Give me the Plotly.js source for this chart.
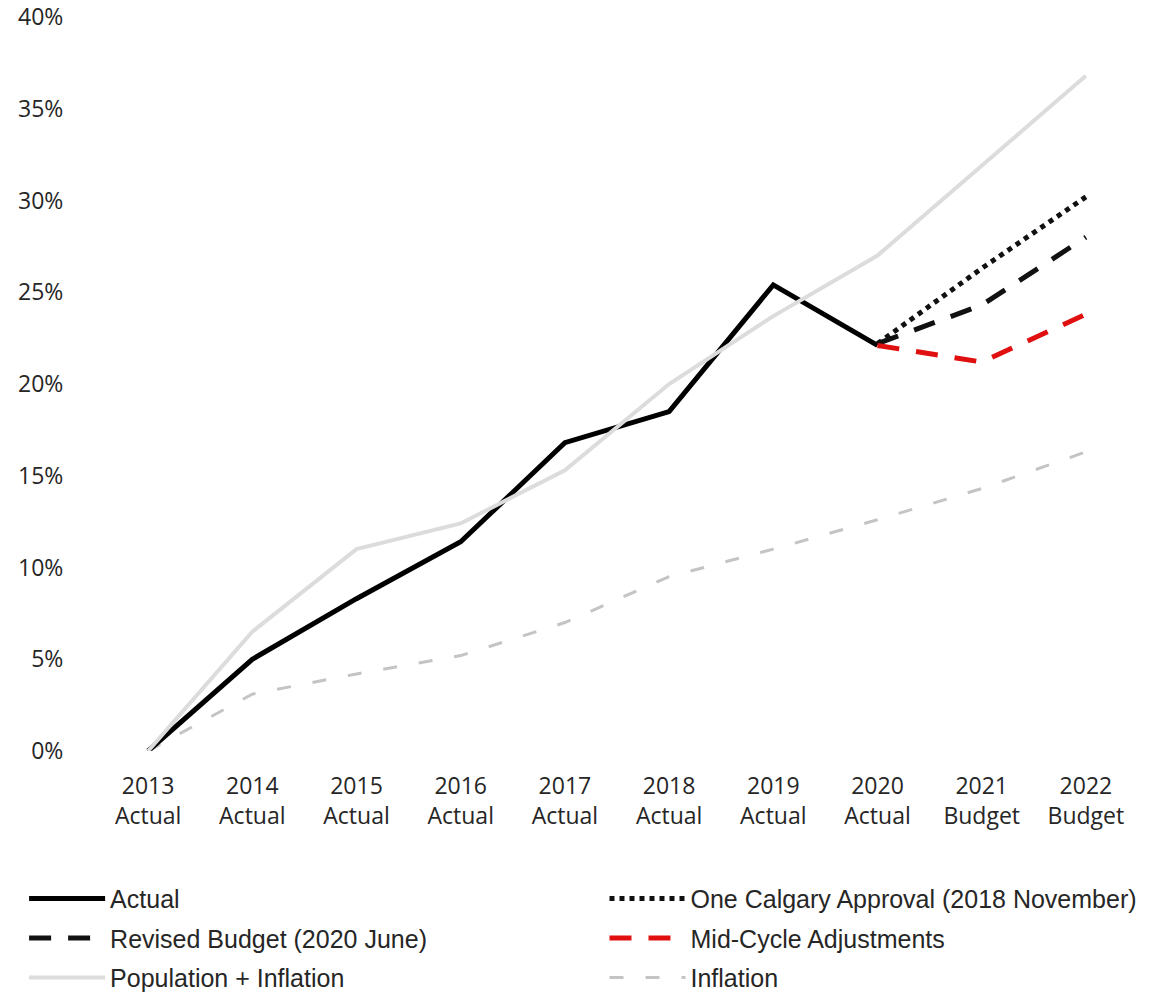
<!DOCTYPE html>
<html>
<head>
<meta charset="utf-8">
<script src="https://cdn.plot.ly/plotly-3.0.1.min.js"></script>
<style>html,body{margin:0;padding:0;background:#fff;}#chart{width:1158px;height:993px;}</style>
</head>
<body>
<div id="chart"></div>
<script>
const categories = ["2013<br>Actual","2014<br>Actual","2015<br>Actual","2016<br>Actual","2017<br>Actual","2018<br>Actual","2019<br>Actual","2020<br>Actual","2021<br>Budget","2022<br>Budget"];
const actual = [0, 5.0, 8.3, 11.4, 16.8, 18.5, 25.4, 22.1, null, null];
const popInflation = [0, 6.5, 11.0, 12.4, 15.3, 20.0, 23.7, 27.0, 31.9, 36.8];
const inflation = [0, 3.1, 4.2, 5.2, 7.0, 9.5, 11.0, 12.6, 14.3, 16.3];
const oneCalgary = [null, null, null, null, null, null, null, 22.2, 26.3, 30.2];
const revisedBudget = [null, null, null, null, null, null, null, 22.2, 24.3, 28.0];
const midCycle = [null, null, null, null, null, null, null, 22.1, 21.2, 23.8];
const yTicks = [0, 5, 10, 15, 20, 25, 30, 35, 40];
const yTickText = ["0%","5%","10%","15%","20%","25%","30%","35%","40%"];

const traces = [
  {name:"Inflation", y: inflation, legend:"legend2", legendrank: 3, line:{color:"#c4c4c4", width:3, dash:"14px,22px"}},
  {name:"Actual", y: actual, legend:"legend", legendrank: 1, line:{color:"#000000", width:5}},
  {name:"Population + Inflation", y: popInflation, legend:"legend", legendrank: 3, line:{color:"#dcdcdc", width:4}},
  {name:"One Calgary Approval (2018 November)", y: oneCalgary, legend:"legend2", legendrank: 1, line:{color:"#111111", width:5, dash:"5px,5px"}},
  {name:"Revised Budget (2020 June)", y: revisedBudget, legend:"legend", legendrank: 2, line:{color:"#111111", width:5, dash:"22px,17px"}},
  {name:"Mid-Cycle Adjustments", y: midCycle, legend:"legend2", legendrank: 2, line:{color:"#e01010", width:5, dash:"22px,17px"}}
].map((t, i) => Object.assign({type:"scatter", mode:"lines", x: categories, hoverinfo:"skip", legendgroup:"g" + i}, t));

const font = "'Open Sans', 'Liberation Sans', sans-serif";
const legendFont = {family: "'Liberation Sans', sans-serif", size: 25, color: "#262626"};
const legendBase = {
  orientation: "v", xref: "paper", xanchor: "left",
  yref: "container", y: 0.118, yanchor: "top",
  itemwidth: 76, tracegroupgap: 4, traceorder: "grouped", font: legendFont,
  bgcolor: "rgba(0,0,0,0)"
};
const layout = {
  width: 1158, height: 993,
  margin: {l: 96, r: 20, t: 17, b: 242},
  paper_bgcolor: "#fff", plot_bgcolor: "#fff",
  showlegend: true,
  font: {family: font, color: "#262626", size: 22},
  xaxis: {
    type: "category", range: [-0.5, 9.5], showgrid: false, zeroline: false, showline: false,
    ticks: "outside", ticklen: 14, tickcolor: "rgba(0,0,0,0)",
    tickfont: {family: font, size: 23, color: "#262626"}
  },
  yaxis: {
    range: [0, 40], tickvals: yTicks, ticktext: yTickText, showgrid: false, zeroline: false, showline: false,
    ticks: "outside", ticklen: 27, tickcolor: "rgba(0,0,0,0)",
    tickfont: {family: font, size: 23, color: "#262626"}
  },
  legend: Object.assign({}, legendBase, {x: -0.069}),
  legend2: Object.assign({}, legendBase, {x: 0.488})
};
Plotly.newPlot("chart", traces, layout, {staticPlot: true});
</script>
</body>
</html>
